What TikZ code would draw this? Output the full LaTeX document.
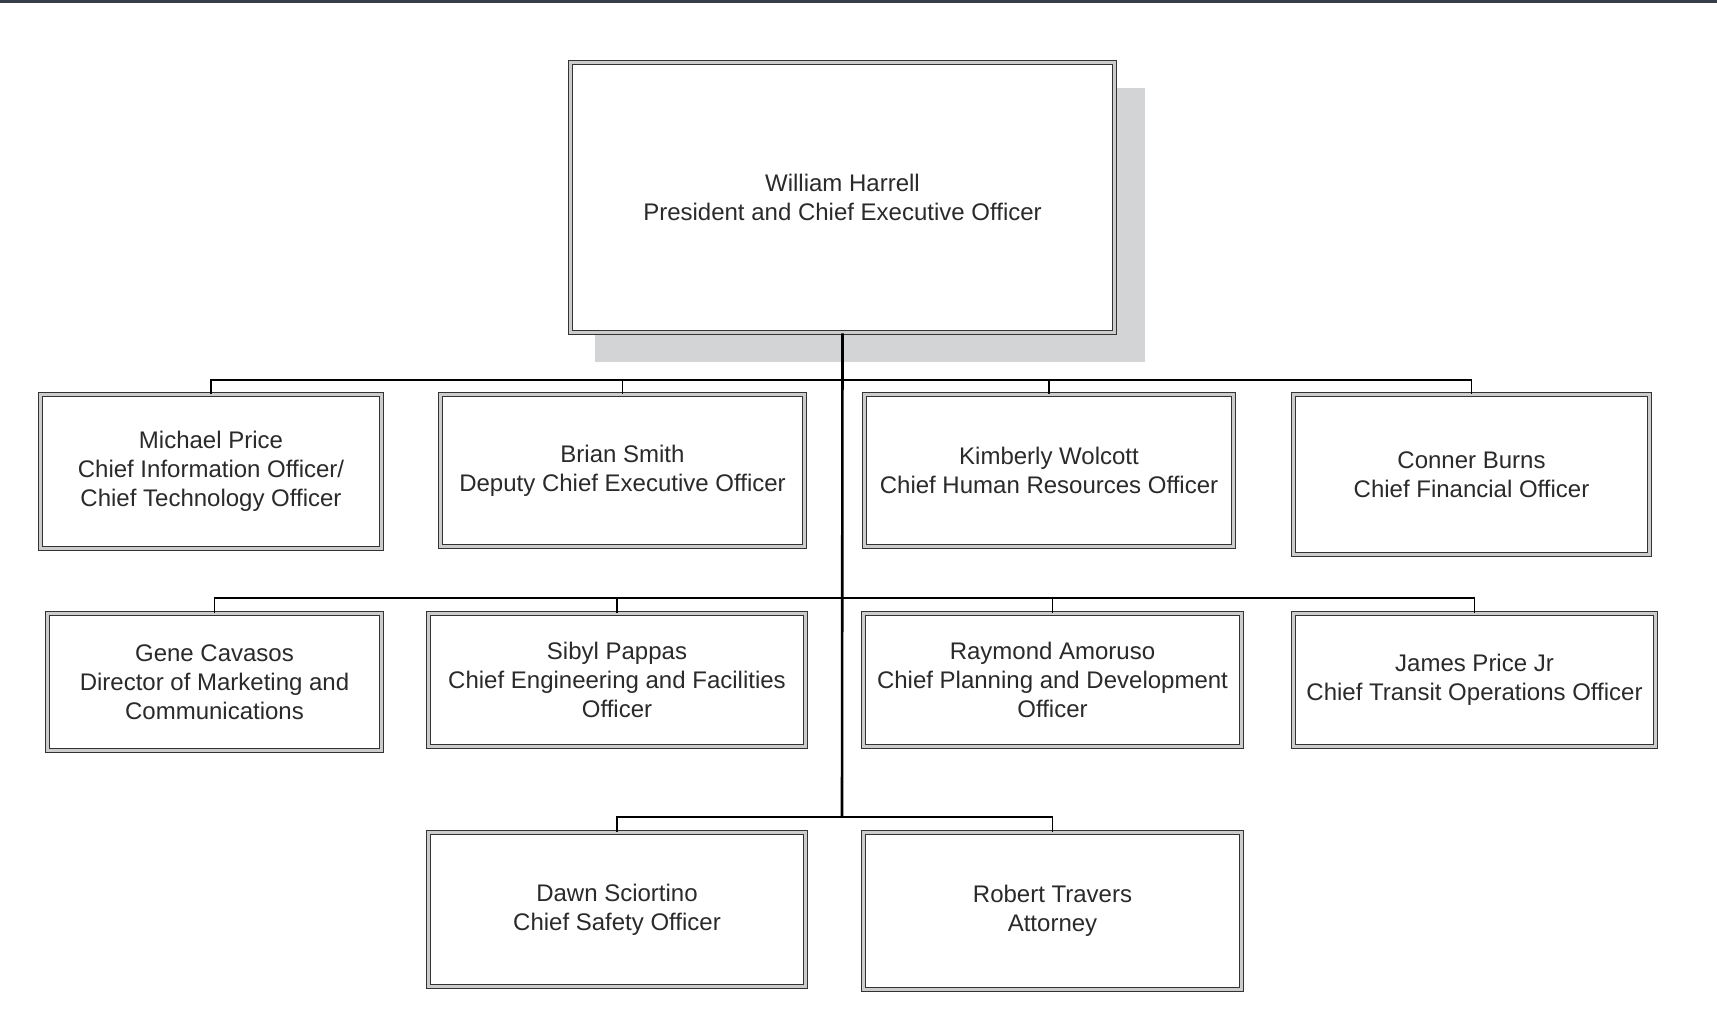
\documentclass[tikz,border=0pt]{standalone}
\usepackage{fontspec}
\setmainfont{Liberation Sans}
\usetikzlibrary{positioning,calc}
\definecolor{topbar}{HTML}{363F48}
\definecolor{shadowgray}{HTML}{D3D4D5}
\definecolor{boxline}{HTML}{333333}
\definecolor{ink}{HTML}{2A2A2A}

\begin{document}
\begin{tikzpicture}[x=1pt,y=-1pt,
  post/.style={draw=boxline, double=gray!40, double distance=2.2pt, line width=1.7pt,
    fill=white, align=center, text=ink, inner sep=0pt,
    font=\fontsize{24}{29}\selectfont},
  trunk/.style={line width=2.6pt},
  link/.style={line width=1.7pt}]
\useasboundingbox (0,0) rectangle (1717,1016);
\fill[topbar] (0,0) rectangle (1717,3);
\fill[shadowgray] (595,88) rectangle (1145,362);
% top
\node[post, minimum width=544, minimum height=270] (ceo) at (842.5,197.5) {William Harrell\\President and Chief Executive Officer};
% first row
\node[post, minimum width=341, minimum height=154] (price) at (211,471.5) {Michael Price\\Chief Information Officer/\\Chief Technology Officer};
\node[post, minimum width=364, minimum height=152] (smith) at (622.5,470.5) {Brian Smith\\Deputy Chief Executive Officer};
\node[post, minimum width=369, minimum height=152] (wolcott) at (1049,470.5) {Kimberly Wolcott\\Chief Human Resources Officer};
\node[post, minimum width=356, minimum height=160] (burns) at (1471.5,474.5) {Conner Burns\\Chief Financial Officer};
% second row
\node[post, minimum width=334, minimum height=137] (cavasos) at (214.5,682) {Gene Cavasos\\Director of Marketing and\\Communications};
\node[post, minimum width=377, minimum height=133] (pappas) at (617,680) {Sibyl Pappas\\Chief Engineering and Facilities\\Officer};
\node[post, minimum width=378, minimum height=133] (amoruso) at (1052.5,680) {Raymond Amoruso\\Chief Planning and Development\\Officer};
\node[post, minimum width=362, minimum height=133] (jprice) at (1474.5,680) {James Price Jr\\Chief Transit Operations Officer};
% third row
\node[post, minimum width=377, minimum height=154] (sciortino) at (617,909.5) {Dawn Sciortino\\Chief Safety Officer};
\node[post, minimum width=378, minimum height=157] (travers) at (1052.5,911) {Robert Travers\\Attorney};
% buses
\coordinate (bus1) at (842,380);
\coordinate (bus2) at (842,598);
\coordinate (bus3) at (842,817);
\draw[link] (price.north) |- (bus1) -| (burns.north);
\draw[link] (smith.north) -- (smith.north |- bus1);
\draw[link] (wolcott.north) -- (wolcott.north |- bus1);
\draw[link] (cavasos.north) |- (bus2) -| (jprice.north);
\draw[link] (pappas.north) -- (pappas.north |- bus2);
\draw[link] (amoruso.north) -- (amoruso.north |- bus2);
\draw[link] (sciortino.north) |- (bus3) -| (travers.north);
\draw[trunk] (ceo.south) -- (bus3);
\end{tikzpicture}
\end{document}
